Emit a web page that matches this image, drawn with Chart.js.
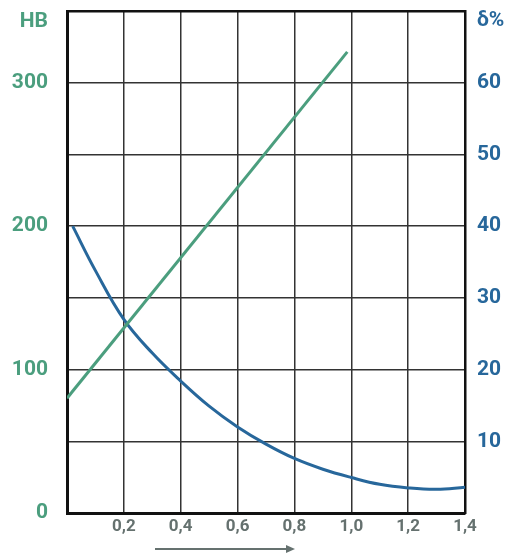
<!DOCTYPE html>
<html>
<head>
<meta charset="utf-8">
<script src="https://cdn.jsdelivr.net/npm/chart.js@4/dist/chart.umd.min.js"></script>
<style>
  html, body { margin: 0; padding: 0; background: #fff; }
  #wrap { width: 518px; height: 555px; }
</style>
</head>
<body>
<div id="wrap"><canvas id="hbChart" width="518" height="555"></canvas></div>
<script>
// hardness HB (left axis)
var hbX = [0, 0.986];
var hbValues = [80, 321.5];

// elongation delta % (right axis)
var deltaX = [0.02, 0.1, 0.2, 0.3, 0.4, 0.5, 0.6, 0.7, 0.8, 0.9, 1.0, 1.1, 1.2, 1.3, 1.4];
var deltaValues = [40, 33.8, 27.0, 22.3, 18.4, 14.9, 12.0, 9.6, 7.6, 6.1, 4.95, 4.0, 3.5, 3.3, 3.6];

var xTicks = [0, 0.2, 0.4, 0.6, 0.8, 1.0, 1.2, 1.4];
var hbLabels = [0, 100, 200, 300];
var deltaLabels = [10, 20, 30, 40, 50, 60];

var GREEN = '#4b9e7e';
var BLUE = '#27679b';
var GREY = '#65716f';
var FONT = 'Roboto, "Liberation Sans", Arial, sans-serif';

function toPoints(xs, ys) {
    var pts = [];
    for (var i = 0; i < xs.length; i++) {
        pts.push({ x: xs[i], y: ys[i] });
    }
    return pts;
}

// axis titles and the arrow under the x axis
var extrasPlugin = {
    id: 'extras',
    afterDraw: function(chart) {
        var ctx = chart.ctx;
        var area = chart.chartArea;
        ctx.save();
        ctx.font = 'bold 21px ' + FONT;
        ctx.textBaseline = 'middle';
        ctx.fillStyle = GREEN;
        ctx.textAlign = 'right';
        ctx.fillText('HB', area.left - 19, 22);
        ctx.fillStyle = BLUE;
        ctx.textAlign = 'left';
        ctx.fillText('δ%', area.right + 12, 21);

        // arrow
        ctx.strokeStyle = GREY;
        ctx.fillStyle = GREY;
        ctx.lineWidth = 2;
        ctx.beginPath();
        ctx.moveTo(155, 549);
        ctx.lineTo(289, 549);
        ctx.stroke();
        ctx.beginPath();
        ctx.moveTo(295, 549);
        ctx.lineTo(286, 545);
        ctx.lineTo(286, 553);
        ctx.closePath();
        ctx.fill();
        ctx.restore();
    }
};

function noVertPadding(scale, w) {
    scale.width = w;
    scale.paddingTop = 0;
    scale.paddingBottom = 0;
}

var ctx = document.getElementById('hbChart').getContext('2d');
var chart = new Chart(ctx, {
    type: 'line',
    data: {
        datasets: [
            {
                label: 'HB',
                data: toPoints(hbX, hbValues),
                yAxisID: 'yHB',
                borderColor: GREEN,
                borderWidth: 3,
                pointRadius: 0,
                fill: false
            },
            {
                label: 'δ%',
                data: toPoints(deltaX, deltaValues),
                yAxisID: 'yDelta',
                borderColor: BLUE,
                borderWidth: 3,
                pointRadius: 0,
                tension: 0.4,
                fill: false
            }
        ]
    },
    options: {
        responsive: false,
        animation: false,
        layout: { padding: { top: 11, left: 0, right: 0, bottom: 0 } },
        plugins: {
            legend: { display: false },
            tooltip: { enabled: false }
        },
        scales: {
            x: {
                type: 'linear',
                min: 0,
                max: 1.4,
                afterFit: function(scale) {
                    scale.height = 42;
                    scale.paddingLeft = 0;
                    scale.paddingRight = 0;
                },
                afterBuildTicks: function(scale) {
                    scale.ticks = xTicks.map(function(v) { return { value: v }; });
                },
                border: { display: true, color: '#111', width: 3 },
                grid: { color: '#333', lineWidth: 1.5, drawTicks: false },
                ticks: {
                    padding: 4,
                    color: GREY,
                    font: { family: FONT, size: 17, weight: 'bold' },
                    callback: function(v) {
                        if (v === 0) return '';
                        return v.toFixed(1).replace('.', ',');
                    }
                }
            },
            yHB: {
                type: 'linear',
                position: 'left',
                min: 0,
                max: 350,
                afterFit: function(scale) { noVertPadding(scale, 67); },
                border: { display: true, color: '#111', width: 3 },
                grid: { color: function(c) { return c.tick && c.tick.value === 350 ? '#111' : '#333'; }, lineWidth: function(c) { return c.tick && c.tick.value === 350 ? 2.5 : 1.5; }, drawTicks: false },
                ticks: {
                    stepSize: 50,
                    padding: 19,
                    color: GREEN,
                    font: { family: FONT, size: 21, weight: 'bold' },
                    callback: function(v) {
                        return hbLabels.indexOf(v) >= 0 ? String(v) : '';
                    }
                }
            },
            yDelta: {
                type: 'linear',
                position: 'right',
                min: 0,
                max: 70,
                afterFit: function(scale) { noVertPadding(scale, 53); },
                border: { display: true, color: '#111', width: 2.5 },
                grid: { display: false, drawTicks: false },
                ticks: {
                    stepSize: 10,
                    padding: 12,
                    color: BLUE,
                    font: { family: FONT, size: 21, weight: 'bold' },
                    callback: function(v) {
                        return deltaLabels.indexOf(v) >= 0 ? String(v) : '';
                    }
                }
            }
        }
    },
    plugins: [extrasPlugin]
});
</script>
</body>
</html>
